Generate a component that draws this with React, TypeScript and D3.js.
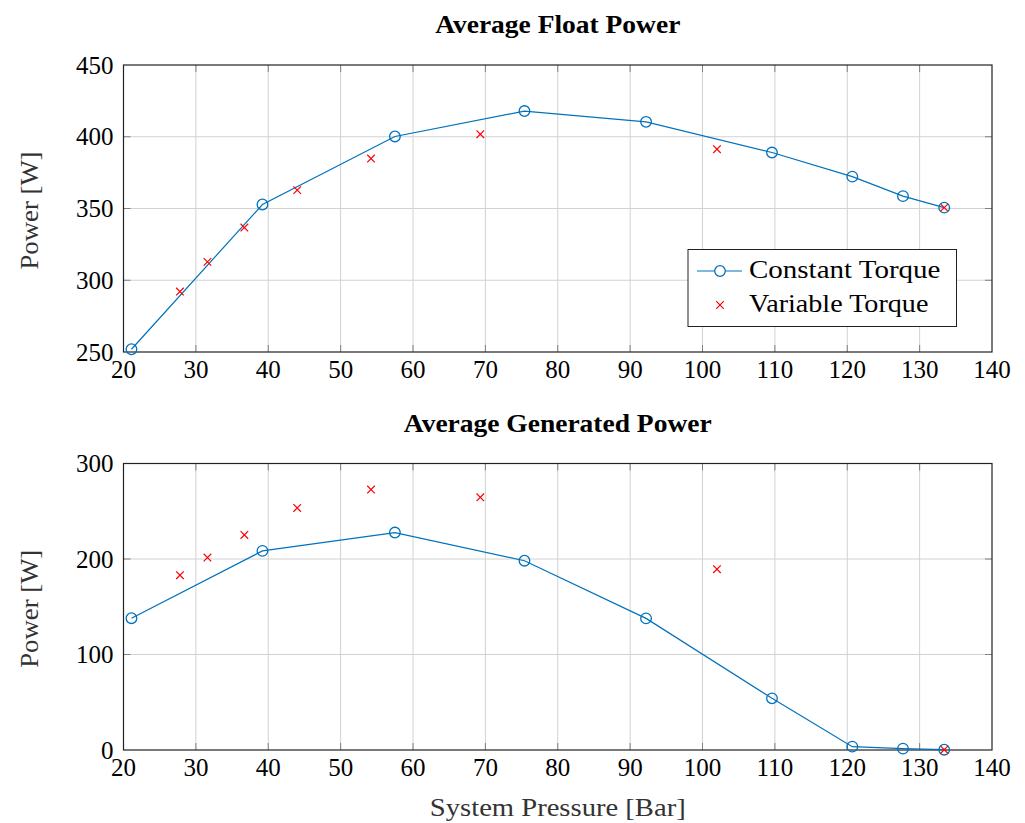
import React, { useEffect, useRef } from 'react';
import * as d3 from 'd3';

// data
const constPressure = [21.1, 39.2, 57.5, 75.4, 92.2, 109.6, 120.7, 127.7, 133.4];
const constFloat = [251.9, 352.8, 400.2, 417.9, 410.4, 389.0, 372.2, 358.6, 350.6];
const constGen = [138, 208.5, 227.7, 198.2, 137.8, 54.1, 3.5, 1.4, 0.3];

const varPressure = [27.8, 31.6, 36.7, 44.0, 54.2, 69.3, 102.0, 133.4];
const varFloat = [292.1, 312.8, 336.7, 362.8, 384.8, 401.8, 391.3, 350.6];
const varGen = [183, 201.5, 225.2, 253.5, 272.7, 264.6, 189.3, 0.3];

const xTicks = [20, 30, 40, 50, 60, 70, 80, 90, 100, 110, 120, 130, 140];
const floatTicks = [250, 300, 350, 400, 450];
const genTicks = [0, 100, 200, 300];

const BLUE = '#0072BD';
const RED = '#FF0000';
const FONT = '"Liberation Serif", "DejaVu Serif", serif';
const FS = 25;
const STRETCH = 1.15; // Palatino-ish width from Liberation Serif

export default function App() {
  const ref = useRef<SVGSVGElement | null>(null);

  useEffect(() => {
    draw();
    // eslint-disable-next-line react-hooks/exhaustive-deps
  }, []);

  function label(g, x, y, txt, opts: any = {}) {
    const rot = opts.rotate ? ` rotate(${opts.rotate})` : '';
    const sx = opts.stretch || STRETCH;
    return g
      .append('text')
      .attr('transform', `translate(${x},${y})${rot} scale(${sx},1)`)
      .attr('text-anchor', opts.anchor || 'start')
      .attr('font-family', FONT)
      .attr('font-size', opts.size || FS)
      .attr('font-weight', opts.bold ? 'bold' : 'normal')
      .attr('fill', opts.fill || '#000')
      .text(txt);
  }

  function crossPath(cx, cy, s) {
    return `M${cx - s},${cy - s}L${cx + s},${cy + s}M${cx - s},${cy + s}L${cx + s},${cy - s}`;
  }

  function drawPanel(svg, top, bottom, yDomain, yTicks, title, cy, vy, legend) {
    const left = 123.5;
    const right = 992;
    const x = d3.scaleLinear().domain([20, 140]).range([left, right]);
    const y = d3.scaleLinear().domain(yDomain).range([bottom, top]);
    const g = svg.append('g');

    // grid
    g.selectAll('.vgrid')
      .data(xTicks.slice(1, -1))
      .enter()
      .append('line')
      .attr('x1', (d) => x(d))
      .attr('x2', (d) => x(d))
      .attr('y1', top)
      .attr('y2', bottom)
      .attr('stroke', '#d2d2d2')
      .attr('stroke-width', 1);
    g.selectAll('.hgrid')
      .data(yTicks.slice(1, -1))
      .enter()
      .append('line')
      .attr('x1', left)
      .attr('x2', right)
      .attr('y1', (d) => y(d))
      .attr('y2', (d) => y(d))
      .attr('stroke', '#d2d2d2')
      .attr('stroke-width', 1);

    // inner ticks
    xTicks.slice(1, -1).forEach((t) => {
      g.append('line').attr('x1', x(t)).attr('x2', x(t)).attr('y1', bottom).attr('y2', bottom - 7).attr('stroke', '#808080');
      g.append('line').attr('x1', x(t)).attr('x2', x(t)).attr('y1', top).attr('y2', top + 7).attr('stroke', '#808080');
    });
    yTicks.slice(1, -1).forEach((t) => {
      g.append('line').attr('x1', left).attr('x2', left + 7).attr('y1', y(t)).attr('y2', y(t)).attr('stroke', '#808080');
      g.append('line').attr('x1', right).attr('x2', right - 7).attr('y1', y(t)).attr('y2', y(t)).attr('stroke', '#808080');
    });

    // frame
    g.append('rect')
      .attr('x', left)
      .attr('y', top)
      .attr('width', right - left)
      .attr('height', bottom - top)
      .attr('fill', 'none')
      .attr('stroke', '#222')
      .attr('stroke-width', 1.2);

    // tick labels (digits are the same width as Palatino, no stretch)
    xTicks.forEach((t) => label(g, x(t), bottom + 26, t, { anchor: 'middle', stretch: 1 }));
    yTicks.forEach((t) => label(g, left - 10, y(t) + 8.5, t, { anchor: 'end', stretch: 1 }));

    // title
    label(g, (left + right) / 2, top - 32, title, { anchor: 'middle', bold: true, stretch: 1.1 });

    // y label
    label(g, 38, (top + bottom) / 2 + 2, 'Power [W]', { anchor: 'middle', rotate: -90, fill: '#333', stretch: 1.07 });

    // constant torque line
    const pts = constPressure.map((p, i) => [x(p), y(cy[i])]);
    g.append('path')
      .attr('d', d3.line()(pts as [number, number][]))
      .attr('fill', 'none')
      .attr('stroke', BLUE)
      .attr('stroke-width', 1.2);
    g.selectAll('.cm')
      .data(pts)
      .enter()
      .append('circle')
      .attr('cx', (d) => d[0])
      .attr('cy', (d) => d[1])
      .attr('r', 5.3)
      .attr('fill', 'none')
      .attr('stroke', BLUE)
      .attr('stroke-width', 1.3);

    // variable torque markers
    varPressure.forEach((p, i) => {
      g.append('path')
        .attr('d', crossPath(x(p), y(vy[i]), 3.8))
        .attr('stroke', RED)
        .attr('stroke-width', 1.2);
    });

    if (legend) {
      const lx = 688;
      const ly = 249.5;
      const lg = g.append('g');
      lg.append('rect')
        .attr('x', lx)
        .attr('y', ly)
        .attr('width', 268.5)
        .attr('height', 77)
        .attr('fill', '#fff')
        .attr('stroke', '#222')
        .attr('stroke-width', 1);
      lg.append('line').attr('x1', lx + 9).attr('x2', lx + 54).attr('y1', ly + 21.5).attr('y2', ly + 21.5).attr('stroke', BLUE).attr('stroke-width', 1.2);
      lg.append('circle').attr('cx', lx + 32).attr('cy', ly + 21.5).attr('r', 5.3).attr('fill', '#fff').attr('stroke', BLUE).attr('stroke-width', 1.3);
      lg.append('path').attr('d', crossPath(lx + 32, ly + 55.5, 3.8)).attr('stroke', RED).attr('stroke-width', 1.2);
      label(lg, lx + 61, ly + 28.5, 'Constant Torque', { stretch: 1.16 });
      label(lg, lx + 61, ly + 62.5, 'Variable Torque', { stretch: 1.125 });
    }
    return x;
  }

  function draw() {
    const svg = d3.select(ref.current);
    svg.selectAll('*').remove();
    drawPanel(svg, 65, 352, [250, 450], floatTicks, 'Average Float Power', constFloat, varFloat, true);
    drawPanel(svg, 463.5, 750, [0, 300], genTicks, 'Average Generated Power', constGen, varGen, false);
    label(svg, (123.5 + 992) / 2, 816, 'System Pressure [Bar]', { anchor: 'middle', fill: '#333', stretch: 1.145 });
  }

  return (
    <div style={{ position: 'absolute', left: 0, top: 0 }}>
      <svg ref={ref} width={1025} height={823} style={{ display: 'block' }} />
    </div>
  );
}
